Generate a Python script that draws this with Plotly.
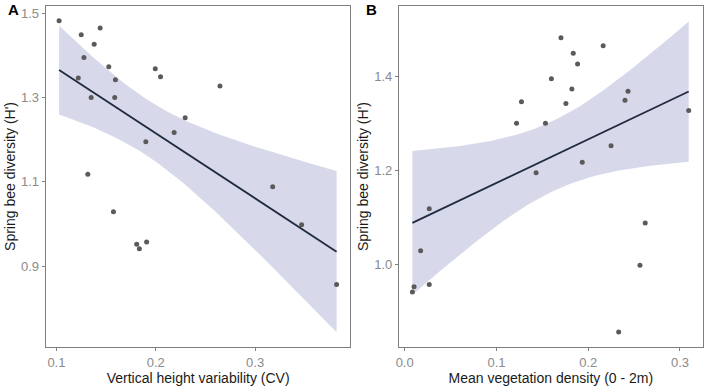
import numpy as np
import plotly.graph_objects as go
from plotly.subplots import make_subplots

# Spring bee diversity (H') per site
diversity = [1.482, 1.465, 1.449, 1.426, 1.395, 1.373, 1.368, 1.349, 1.346, 1.342,
             1.327, 1.300, 1.300, 1.252, 1.217, 1.195, 1.118, 1.088, 1.029, 0.998,
             0.957, 0.952, 0.941, 0.856]
# Panel A predictor: vertical height variability (CV)
height_cv = [0.1027, 0.144, 0.125, 0.138, 0.1277, 0.1527, 0.1995, 0.2048, 0.122, 0.1594,
             0.2646, 0.1587, 0.135, 0.2296, 0.2185, 0.190, 0.1316, 0.3177, 0.1574, 0.3468,
             0.1908, 0.1808, 0.1835, 0.382]
# Panel B predictor: mean vegetation density (0 - 2m)
veg_density = [0.1703, 0.2163, 0.1837, 0.1884, 0.1599, 0.1822, 0.2434, 0.2401, 0.1273, 0.1757,
               0.3095, 0.1219, 0.1534, 0.2249, 0.1935, 0.1432, 0.0268, 0.2621, 0.0174, 0.2564,
               0.0268, 0.0102, 0.0084, 0.2332]

x_ticks_a = [0.1, 0.2, 0.3]
y_ticks_a = [0.9, 1.1, 1.3, 1.5]
x_ticks_b = [0.0, 0.1, 0.2, 0.3]
y_ticks_b = [1.0, 1.2, 1.4]

T_CRIT = 2.074  # t(0.975, df=22)


def lm_fit(x, y, n=80):
    x = np.asarray(x, float)
    y = np.asarray(y, float)
    b1, b0 = np.polyfit(x, y, 1)
    res = y - (b0 + b1 * x)
    s = np.sqrt(np.sum(res ** 2) / (len(x) - 2))
    xs = np.linspace(x.min(), x.max(), n)
    fit = b0 + b1 * xs
    se = s * np.sqrt(1 / len(x) + (xs - x.mean()) ** 2 / np.sum((x - x.mean()) ** 2))
    return xs, fit, fit - T_CRIT * se, fit + T_CRIT * se


fig = make_subplots(rows=1, cols=2)

BAND = "rgba(203,203,228,0.75)"
LINE = "#1f2b3e"
PT = "#5a5a5a"

for col, xv in [(1, height_cv), (2, veg_density)]:
    xs, fit, lo, hi = lm_fit(xv, diversity)
    fig.add_trace(go.Scatter(x=np.concatenate([xs, xs[::-1]]), y=np.concatenate([hi, lo[::-1]]),
                             fill="toself", fillcolor=BAND, line=dict(width=0),
                             mode="lines", hoverinfo="skip", showlegend=False), row=1, col=col)
    fig.add_trace(go.Scatter(x=xv, y=diversity, mode="markers",
                             marker=dict(color=PT, size=5), showlegend=False), row=1, col=col)
    fig.add_trace(go.Scatter(x=xs, y=fit, mode="lines", line=dict(color=LINE, width=1.8),
                             showlegend=False), row=1, col=col)

axis_common = dict(showgrid=False, zeroline=False, showline=True, mirror=True,
                   linecolor="#7f7f7f", linewidth=1.3, ticks="outside", ticklen=3,
                   tickcolor="#7f7f7f", tickfont=dict(family="Liberation Sans, Arial", size=13, color="#8a8a8a"))
title_font = dict(family="Liberation Sans, Arial", size=14, color="#1a1a1a")

fig.update_xaxes(**axis_common)
fig.update_yaxes(**axis_common)

fig.update_layout(
    width=709, height=387, margin=dict(l=0, r=0, t=0, b=0),
    plot_bgcolor="white", paper_bgcolor="white",
    xaxis=dict(domain=[0.0606, 0.4922], range=[0.0893, 0.396], tickvals=x_ticks_a, tickformat=".1f",
               title=dict(text="Vertical height variability (CV)", font=title_font, standoff=1)),
    yaxis=dict(domain=[0.1034, 0.9845], range=[0.708, 1.517], tickvals=y_ticks_a, tickformat=".1f",
               title=dict(text="Spring bee diversity (H')", font=title_font, standoff=2)),
    xaxis2=dict(domain=[0.561, 0.991], range=[-0.0061, 0.3247], tickvals=x_ticks_b, tickformat=".1f",
                title=dict(text="Mean vegetation density (0 - 2m)", font=title_font, standoff=1)),
    yaxis2=dict(domain=[0.1034, 0.9845], range=[0.824, 1.5496], tickvals=y_ticks_b, tickformat=".1f",
                title=dict(text="Spring bee diversity (H')", font=title_font, standoff=2)),
    annotations=[
        dict(text="<b>A</b>", x=0.004, y=0.975, xref="paper", yref="paper", showarrow=False,
             xanchor="left", yanchor="middle", font=dict(family="Liberation Sans, Arial", size=15, color="black")),
        dict(text="<b>B</b>", x=0.511, y=0.975, xref="paper", yref="paper", showarrow=False,
             xanchor="left", yanchor="middle", font=dict(family="Liberation Sans, Arial", size=15, color="black")),
    ],
)

fig.write_html("out.html")
